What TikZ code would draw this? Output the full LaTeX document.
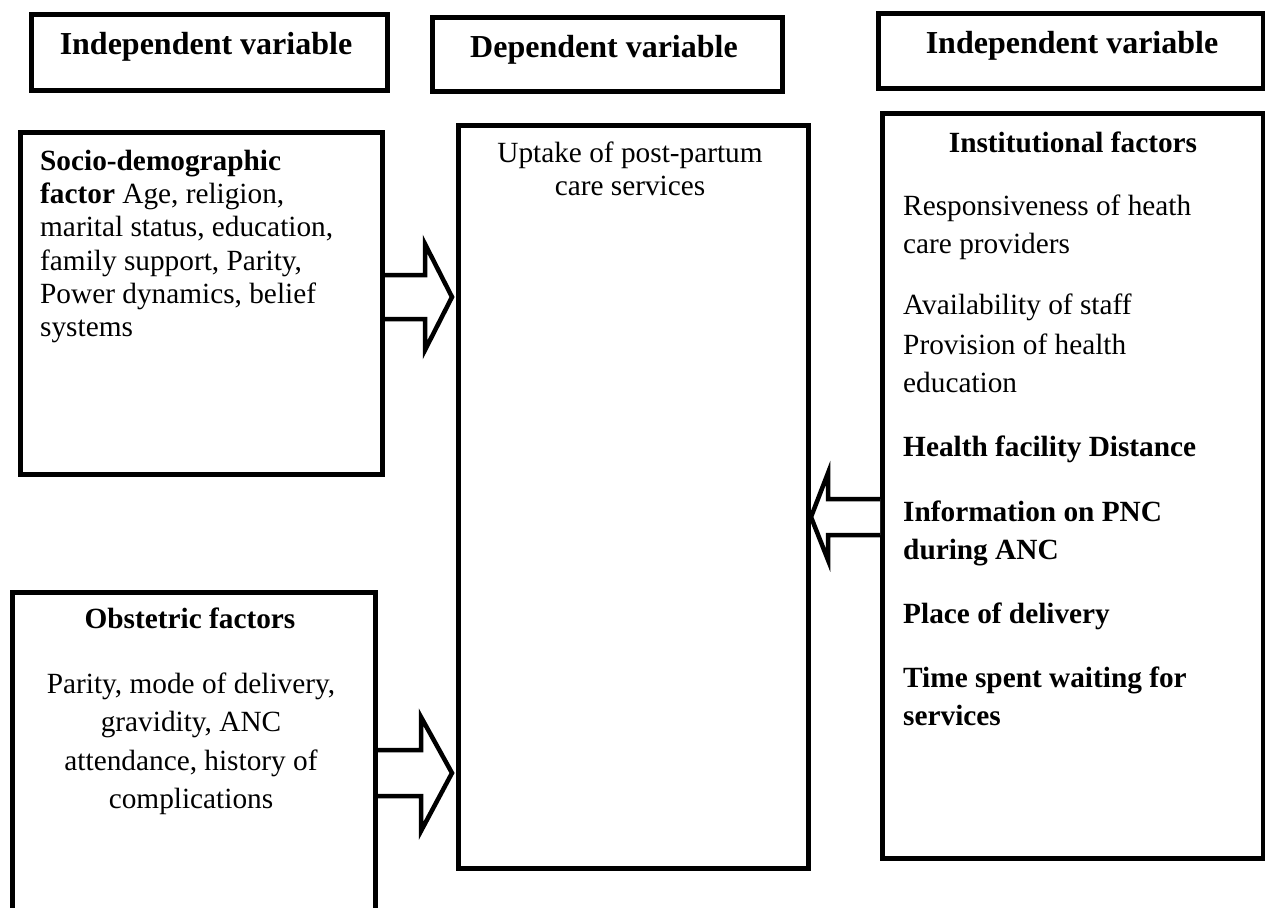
\documentclass[tikz,border=0pt]{standalone}
\usepackage{fontspec}
\setmainfont{Liberation Serif}
\begin{document}
\begin{tikzpicture}[x=1pt,y=-1pt]
\tikzset{
  frame/.style={draw, line width=5pt, inner sep=0pt, anchor=north west},
  body/.style={font=\fontsize{29.3}{33}\selectfont, inner sep=0pt},
  bodyb/.style={font=\fontsize{29.3}{33}\selectfont\bfseries, inner sep=0pt},
  head/.style={font=\fontsize{32}{38}\selectfont\bfseries, inner sep=0pt},
  fat/.style={draw, line width=4.5pt, line join=miter, fill=white},
}
\useasboundingbox (0,0) rectangle (1265,907);
\clip (0,0) rectangle (1265,907);
% header boxes
\node[frame, minimum width=356pt, minimum height=76pt] (h1) at (29,12) {};
\node[frame, minimum width=350pt, minimum height=74pt] (h2) at (430,15) {};
\node[frame, minimum width=385pt, minimum height=75pt] (h3) at (876,11) {};
\node[head, anchor=base] (h1t) at (206,55) {Independent variable};
\node[head, anchor=base] (h2t) at (604,58) {Dependent variable};
\node[head, anchor=base] (h3t) at (1072,53) {Independent variable};
% main boxes
\node[frame, minimum width=362pt, minimum height=342pt] (socio) at (18,130) {};
\node[frame, minimum width=350pt, minimum height=743pt] (dep) at (456,123) {};
\node[frame, minimum width=381pt, minimum height=745pt] (inst) at (880,111) {};
\node[frame, minimum width=363pt, minimum height=340pt] (obst) at (10,590) {};
% socio text
\node[bodyb, anchor=base west] (s1) at (40,170) {Socio-demographic};
\node[body, anchor=base west] (s2) at (40,203.3) {\textbf{factor} Age, religion,};
\node[body, anchor=base west] (s3) at (40,236.7) {marital status, education,};
\node[body, anchor=base west] (s4) at (40,270) {family support, Parity,};
\node[body, anchor=base west] (s5) at (40,303.3) {Power dynamics, belief};
\node[body, anchor=base west] (s6) at (40,336.7) {systems};
% dependent text
\node[body, anchor=base] (d1) at (630,162) {Uptake of post-partum};
\node[body, anchor=base] (d2) at (630,195) {care services};
% obstetric text
\node[bodyb, anchor=base] (o0) at (190,628) {Obstetric factors};
\node[body, anchor=base] (o1) at (191,693) {Parity, mode of delivery,};
\node[body, anchor=base] (o2) at (191,731.5) {gravidity, ANC};
\node[body, anchor=base] (o3) at (191,770) {attendance, history of};
\node[body, anchor=base] (o4) at (191,808.5) {complications};
% institutional text
\node[bodyb, anchor=base] (i0) at (1073,152) {Institutional factors};
\node[body, anchor=base west] (i1) at (903,215) {Responsiveness of heath};
\node[body, anchor=base west] (i2) at (903,253.5) {care providers};
\node[body, anchor=base west] (i3) at (903,314) {Availability of staff};
\node[body, anchor=base west] (i4) at (903,354) {Provision of health};
\node[body, anchor=base west] (i5) at (903,392.5) {education};
\node[bodyb, anchor=base west] (i6) at (903,456) {Health facility Distance};
\node[bodyb, anchor=base west] (i7) at (903,521) {Information on PNC};
\node[bodyb, anchor=base west] (i8) at (903,559.5) {during ANC};
\node[bodyb, anchor=base west] (i9) at (903,623) {Place of delivery};
\node[bodyb, anchor=base west] (i10) at (903,687) {Time spent waiting for};
\node[bodyb, anchor=base west] (i11) at (903,725.5) {services};
% arrows
\path[fat] (socio.east |- 0,275) -- (425,275) -- (425,244) -- (452,297) -- (425,350) -- (425,319) -- (socio.east |- 0,319);
\path[fat] (obst.east |- 0,750) -- (421,750) -- (421,717) -- (452,773) -- (421,831) -- (421,796) -- (obst.east |- 0,796);
\path[fat] (inst.west |- 0,499) -- (828,499) -- (828,473) -- (dep.east |- 0,517) -- (828,560) -- (828,535) -- (inst.west |- 0,535);
\end{tikzpicture}
\end{document}
